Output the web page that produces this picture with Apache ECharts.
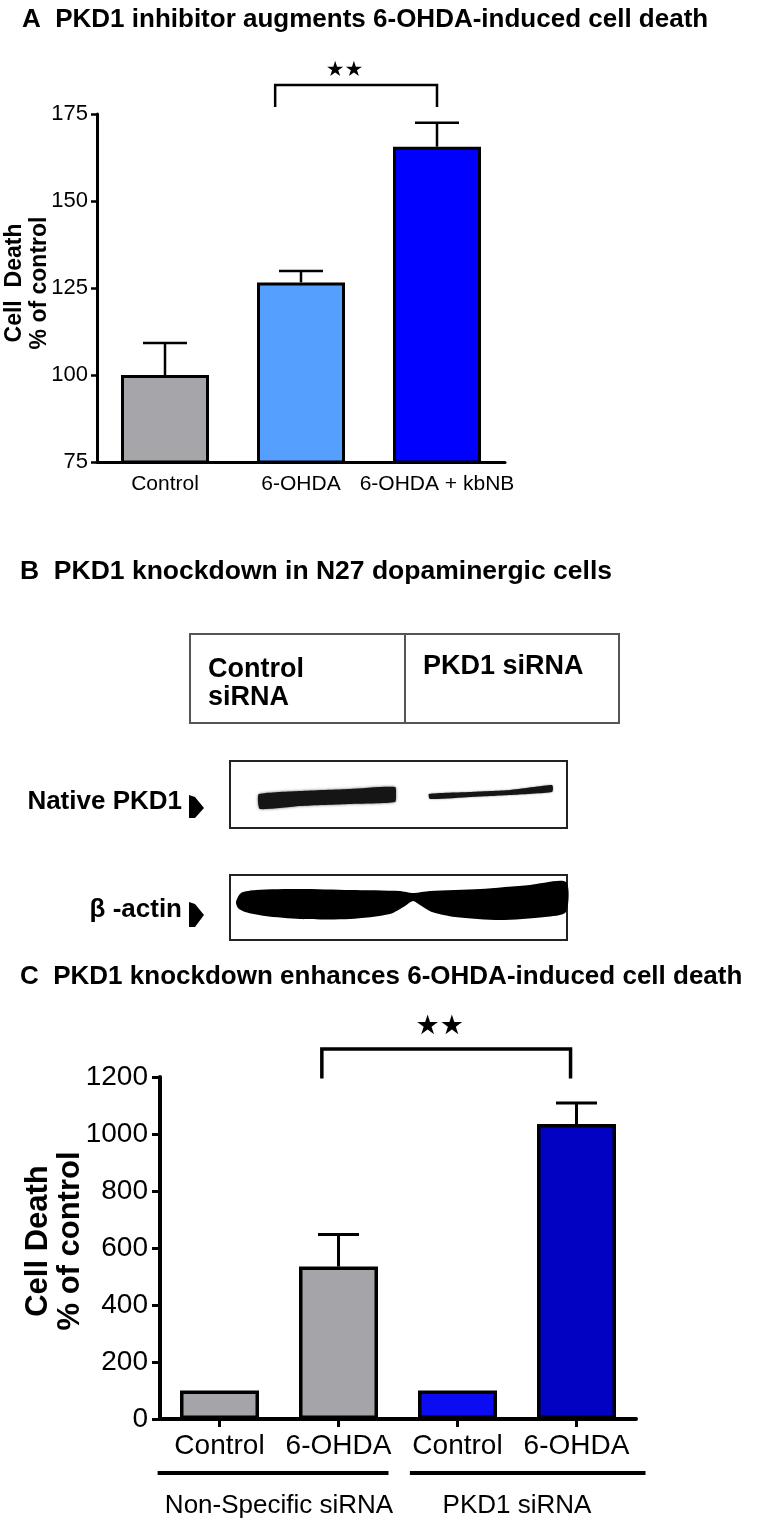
<!DOCTYPE html>
<html lang="en">
<head>
<meta charset="UTF-8">
<title>PKD1 and 6-OHDA-induced cell death</title>
<script src="https://cdn.jsdelivr.net/npm/echarts@6/dist/echarts.min.js"></script>
<style>
  html, body { margin: 0; padding: 0; background: #fff; }
  #main { width: 770px; height: 1528px; }
</style>
</head>
<body>
<div id="main"></div>
<script>
// ---- panel A : kbNB inhibitor ----
var catsA = ['Control', '6-OHDA', '6-OHDA + kbNB'];
var meanA = [100, 126.6, 165.6];
var semA = [9.2, 3.3, 6.9];
var ticksA = [75, 100, 125, 150, 175];
var colorA = ['#a5a5aa', '#559fff', '#0000ff'];

// ---- panel C : siRNA knockdown ----
var catsC = ['Control', '6-OHDA', 'Control', '6-OHDA'];
var groupsC = ['Non-Specific siRNA', 'PKD1 siRNA'];
var meanC = [100, 535, 100, 1035];
var semC = [0, 112, 0, 74];
var ticksC = [0, 200, 400, 600, 800, 1000, 1200];
var colorC = ['#a5a5a9', '#a5a5a9', '#0c0cf2', '#0202c2'];

var sans = '"Liberation Sans", Arial, sans-serif';

// x position in category units (band centre = integer), also fractions
function xAt(api, pos) {
    var i = Math.round(pos);
    return api.coord([i, 0])[0] + (pos - i) * api.size([1, 0])[0];
}

function errSeries(idx, means, sems, capW, lw) {
    return {
        type: 'custom',
        xAxisIndex: idx, yAxisIndex: idx,
        z: 5,
        data: means.map(function (m, i) { return [i, m, sems[i]]; }),
        renderItem: function (params, api) {
            var e = api.value(2);
            if (!e) return;
            var b = api.coord([api.value(0), api.value(1)]);
            var t = api.coord([api.value(0), api.value(1) + e]);
            var st = { stroke: '#000', lineWidth: lw };
            return {
                type: 'group',
                children: [
                    { type: 'line', shape: { x1: b[0], y1: b[1], x2: t[0], y2: t[1] }, style: st },
                    { type: 'line', shape: { x1: t[0] - capW / 2, y1: t[1], x2: t[0] + capW / 2, y2: t[1] }, style: st }
                ]
            };
        }
    };
}

// significance bracket: [from, to] in category units, top value, leg value, star pos/value
function bracketSeries(idx, from, to, topV, legV, starX, starV, starSize, lw) {
    return {
        type: 'custom',
        xAxisIndex: idx, yAxisIndex: idx,
        clip: false,
        data: [[0, topV]],
        renderItem: function (params, api) {
            var x1 = xAt(api, from), x2 = xAt(api, to);
            var yt = api.coord([0, topV])[1], yl = api.coord([0, legV])[1];
            return {
                type: 'group',
                children: [
                    { type: 'polyline', shape: { points: [[x1, yl], [x1, yt], [x2, yt], [x2, yl]] },
                      style: { stroke: '#000', lineWidth: lw, fill: null } },
                    { type: 'text', x: xAt(api, starX), y: api.coord([0, starV])[1],
                      style: { text: '\u2605\u2605', fontSize: starSize, fontFamily: '"DejaVu Sans", sans-serif',
                               fill: '#000', align: 'center', verticalAlign: 'middle' } }
                ]
            };
        }
    };
}

function plain(v) { return String(v); }

var myChart = echarts.init(document.getElementById('main'));

var option = {
    backgroundColor: '#fff',
    animation: false,
    grid: [
        { left: 97, top: 114, width: 408, height: 348, outerBoundsMode: 'none' },
        { left: 160, top: 1077, width: 476, height: 342, outerBoundsMode: 'none' }
    ],
    xAxis: [
        {
            gridIndex: 0, type: 'category', data: catsA,
            axisLine: { lineStyle: { color: '#000', width: 3 } },
            axisTick: { show: false },
            axisLabel: { interval: 0, color: '#000', fontSize: 21, fontFamily: sans, margin: 12 }
        },
        {
            gridIndex: 1, type: 'category', data: catsC,
            axisLine: { lineStyle: { color: '#000', width: 4 } },
            axisTick: { show: true, alignWithLabel: true, length: 8, lineStyle: { color: '#000', width: 3 } },
            axisLabel: { interval: 0, color: '#000', fontSize: 28, fontFamily: sans, margin: 13 }
        },
        {
            gridIndex: 1, type: 'category', data: groupsC, position: 'bottom', offset: 68,
            axisLine: { show: false }, axisTick: { show: false },
            axisLabel: { interval: 0, color: '#000', fontSize: 26, fontFamily: sans, margin: 6 }
        }
    ],
    yAxis: [
        {
            gridIndex: 0, type: 'value',
            min: ticksA[0], max: ticksA[ticksA.length - 1], interval: ticksA[1] - ticksA[0],
            splitLine: { show: false },
            axisLine: { show: true, lineStyle: { color: '#000', width: 3 } },
            axisTick: { show: true, length: 6, lineStyle: { color: '#000', width: 2.5 } },
            axisLabel: { color: '#000', fontSize: 22, fontFamily: sans, margin: 9, formatter: plain }
        },
        {
            gridIndex: 1, type: 'value',
            min: ticksC[0], max: ticksC[ticksC.length - 1], interval: ticksC[1] - ticksC[0],
            splitLine: { show: false },
            axisLine: { show: true, lineStyle: { color: '#000', width: 4 } },
            axisTick: { show: true, length: 8, lineStyle: { color: '#000', width: 3 } },
            axisLabel: { color: '#000', fontSize: 28, fontFamily: sans, margin: 12, formatter: plain }
        }
    ],
    series: [
        {
            type: 'bar', xAxisIndex: 0, yAxisIndex: 0, barWidth: 88,
            data: meanA.map(function (v, i) {
                return { value: v, itemStyle: { color: colorA[i] } };
            }),
            itemStyle: { borderColor: '#000', borderWidth: 3 }
        },
        errSeries(0, meanA, semA, 44, 2.5),
        bracketSeries(0, 0.81, 2, 183.3, 177, 1.32, 187.5, 21, 2.5),
        {
            type: 'bar', xAxisIndex: 1, yAxisIndex: 1, barWidth: 79,
            data: meanC.map(function (v, i) {
                return { value: v, itemStyle: { color: colorC[i] } };
            }),
            itemStyle: { borderColor: '#000', borderWidth: 3.5 }
        },
        errSeries(1, meanC, semC, 41, 3),
        bracketSeries(1, 0.86, 2.95, 1298, 1195, 1.85, 1375, 27, 3.5),
        {
            // group underlines below the C axis
            type: 'custom', xAxisIndex: 1, yAxisIndex: 1, clip: false,
            data: [[-0.52, 1.42], [1.6, 3.58]],
            renderItem: function (params, api) {
                var y = api.coord([0, 0])[1] + 54;
                return {
                    type: 'line',
                    shape: { x1: xAt(api, api.value(0)), y1: y, x2: xAt(api, api.value(1)), y2: y },
                    style: { stroke: '#000', lineWidth: 4 }
                };
            }
        }
    ],
    graphic: [
        // panel titles
        { type: 'text', x: 22, y: 20, style: { text: 'A  PKD1 inhibitor augments 6-OHDA-induced cell death',
            font: 'bold 26px ' + sans, fill: '#000', verticalAlign: 'middle' } },
        { type: 'text', x: 20, y: 572, style: { text: 'B  PKD1 knockdown in N27 dopaminergic cells',
            font: 'bold 26.5px ' + sans, fill: '#000', verticalAlign: 'middle' } },
        { type: 'text', x: 20, y: 977, style: { text: 'C  PKD1 knockdown enhances 6-OHDA-induced cell death',
            font: 'bold 26px ' + sans, fill: '#000', verticalAlign: 'middle' } },
        // y axis titles
        { type: 'text', x: 27, y: 283, rotation: Math.PI / 2, style: { text: 'Cell  Death\n% of control',
            font: 'bold 23px ' + sans, lineHeight: 25, fill: '#000', align: 'center', verticalAlign: 'middle' } },
        { type: 'text', x: 54, y: 1241, rotation: Math.PI / 2, style: { text: 'Cell Death\n% of control',
            font: 'bold 31px ' + sans, lineHeight: 32, fill: '#000', align: 'center', verticalAlign: 'middle' } },

        // panel B: lane table
        { type: 'rect', shape: { x: 190, y: 634, width: 429, height: 89 }, style: { fill: null, stroke: '#555', lineWidth: 2 } },
        { type: 'line', shape: { x1: 405, y1: 634, x2: 405, y2: 723 }, style: { stroke: '#555', lineWidth: 2 } },
        { type: 'text', x: 208, y: 684, style: { text: 'Control\nsiRNA', font: 'bold 27px ' + sans,
            lineHeight: 28, fill: '#000', verticalAlign: 'middle' } },
        { type: 'text', x: 423, y: 667, style: { text: 'PKD1 siRNA', font: 'bold 27px ' + sans,
            fill: '#000', verticalAlign: 'middle' } },

        // blot labels
        { type: 'text', x: 182, y: 802, style: { text: 'Native PKD1', font: 'bold 26px ' + sans,
            fill: '#000', align: 'right', verticalAlign: 'middle' } },
        { type: 'polygon', shape: { points: [[189, 795], [195, 797], [204, 808], [195, 818], [189, 818]] }, style: { fill: '#000' } },
        { type: 'text', x: 182, y: 910, style: { text: '\u03b2 -actin', font: 'bold 26px ' + sans,
            fill: '#000', align: 'right', verticalAlign: 'middle' } },
        { type: 'polygon', shape: { points: [[189, 902], [195, 904], [204, 915], [195, 927], [189, 927]] }, style: { fill: '#000' } },

        // blot frames
        { type: 'rect', shape: { x: 230, y: 761, width: 337, height: 67 }, style: { fill: '#fff', stroke: '#222', lineWidth: 2 } },
        { type: 'rect', shape: { x: 230, y: 875, width: 337, height: 65 }, style: { fill: '#fff', stroke: '#222', lineWidth: 2 } },
        // PKD1 bands
        { type: 'polygon', shape: { smooth: 0.2, points: [[259, 794], [300, 791], [350, 789], [395, 787], [396, 795],
            [395, 802], [350, 804], [300, 806], [260, 809], [258, 801]] },
          style: { fill: '#151515', shadowBlur: 3, shadowColor: 'rgba(0,0,0,0.6)' } },
        { type: 'polygon', shape: { smooth: 0.2, points: [[429, 794], [470, 792], [510, 790], [552, 785], [553, 788],
            [552, 792], [510, 795], [470, 797], [430, 799]] },
          style: { fill: '#151515', shadowBlur: 2, shadowColor: 'rgba(0,0,0,0.5)' } },
        // beta-actin band
        { type: 'polygon', shape: { smooth: 0.25, points: [[236, 902], [241, 893], [256, 890], [300, 889], [350, 890],
            [400, 891], [413, 893], [430, 891], [480, 889], [530, 885], [566, 882], [566, 912], [545, 917],
            [500, 920], [455, 917], [432, 912], [420, 905], [413, 901], [405, 906], [390, 914], [350, 919],
            [300, 919], [265, 916], [245, 912], [238, 908]] },
          style: { fill: '#000' } }
    ]
};

myChart.setOption(option);
</script>
</body>
</html>
